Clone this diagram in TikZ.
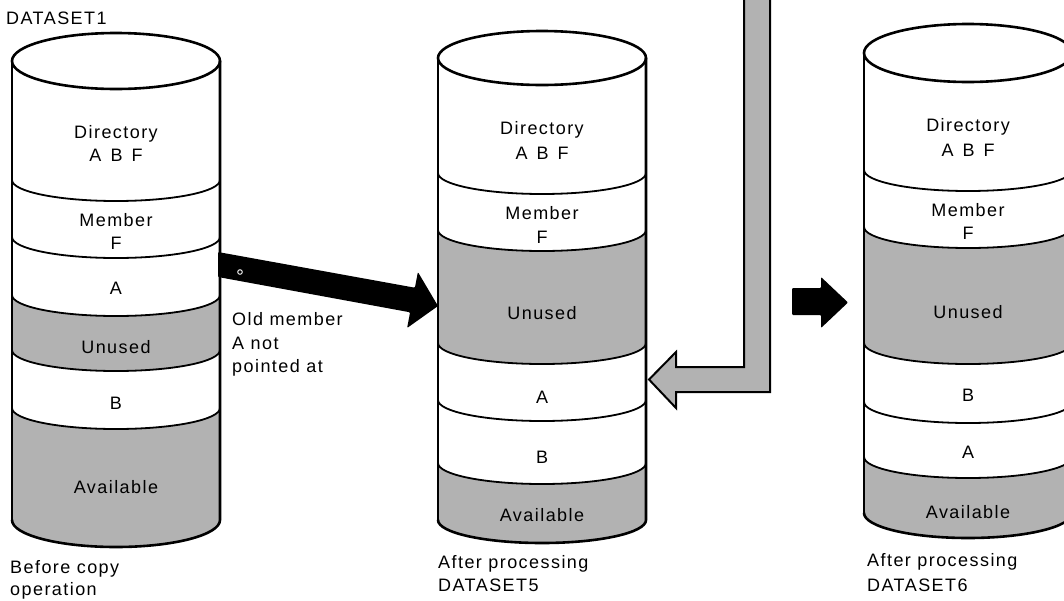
\documentclass[tikz,border=0pt]{standalone}
\usepackage{fontspec}
\setmainfont{Liberation Sans}[LetterSpace=8]
% lower half-ellipse from left to right: cx, y, rx, depth
\newcommand\larc[4]{(#1-#3,#2) .. controls (#1-#3,#2+0.5523*#4) and (#1-0.5523*#3,#2+#4) .. (#1,#2+#4) .. controls (#1+0.5523*#3,#2+#4) and (#1+#3,#2+0.5523*#4) .. (#1+#3,#2)}
% same, from right to left, joined by a line
\newcommand\rarc[4]{-- (#1+#3,#2) .. controls (#1+#3,#2+0.5523*#4) and (#1+0.5523*#3,#2+#4) .. (#1,#2+#4) .. controls (#1-0.5523*#3,#2+#4) and (#1-#3,#2+0.5523*#4) .. (#1-#3,#2)}
\tikzset{
  grayfill/.style={fill=black!30},
  outline/.style={draw=black, line width=2.6pt, line join=round, line cap=round},
  bandline/.style={draw=black, line width=1.8pt, line cap=round},
  lbl/.style={inner sep=0pt, anchor=base, font=\fontsize{18}{22}\selectfont},
  lblw/.style={lbl, anchor=base west},
  blackarrow/.style={fill=black, rounded corners=1pt},
  hollowarrow/.style={fill=black!30, draw=black, line width=2pt, line join=miter},
}
\begin{document}
\begin{tikzpicture}[x=1pt,y=-1pt]
\useasboundingbox (0,0) rectangle (1064,600);

% ---------------- Cylinder 1 (DATASET1) ----------------
\fill[grayfill] \larc{116}{295}{104}{21} \rarc{116}{350}{104}{21} -- cycle;
\fill[grayfill] \larc{116}{408}{104}{21} \rarc{116}{520}{104}{27} -- cycle;
\draw[bandline] \larc{116}{180}{104}{21};
\draw[bandline] \larc{116}{237}{104}{21};
\draw[bandline] \larc{116}{295}{104}{21};
\draw[bandline] \larc{116}{350}{104}{21};
\draw[bandline] \larc{116}{408}{104}{21};
\draw[outline] (116,61) ellipse[x radius=104, y radius=28];
\draw[outline] (12,61) -- (12,520);
\draw[outline] \larc{116}{520}{104}{27} -- (220,61);

\node[lbl] (d1dir) at (116,138) {Directory};
\node[lbl] (d1abf) at (116,161.5) {A\hspace{9pt}B\hspace{9pt}F};
\node[lbl] (d1mem) at (116,226.5) {Member};
\node[lbl] (d1f) at (116,249.5) {F};
\node[lbl] (d1a) at (116,294.5) {A};
\node[lbl] (d1un) at (116,353) {Unused};
\node[lbl] (d1b) at (116,409.5) {B};
\node[lbl] (d1av) at (116,493) {Available};

\node[lblw] (t1) at (6,24) {DATASET1};
\node[lblw] (c1a) at (10,573) {Before copy};
\node[lblw] (c1b) at (10,595) {operation};

% ---------------- Cylinder 2 (DATASET5) ----------------
\fill[grayfill] \larc{542}{230}{104}{21} \rarc{542}{343}{104}{21} -- cycle;
\fill[grayfill] \larc{542}{463}{104}{21} \rarc{542}{520}{104}{23} -- cycle;
\draw[bandline] \larc{542}{173}{104}{21};
\draw[bandline] \larc{542}{230}{104}{21};
\draw[bandline] \larc{542}{343}{104}{21};
\draw[bandline] \larc{542}{400}{104}{21};
\draw[bandline] \larc{542}{463}{104}{21};
\draw[outline] (542,58) ellipse[x radius=104, y radius=27];
\draw[outline] (438,58) -- (438,520);
\draw[outline] \larc{542}{520}{104}{23} -- (646,58);

\node[lbl] (d2dir) at (542,134) {Directory};
\node[lbl] (d2abf) at (542,159.5) {A\hspace{9pt}B\hspace{9pt}F};
\node[lbl] (d2mem) at (542,219.5) {Member};
\node[lbl] (d2f) at (542,243.5) {F};
\node[lbl] (d2un) at (542,319) {Unused};
\node[lbl] (d2a) at (542,403.5) {A};
\node[lbl] (d2b) at (542,463.5) {B};
\node[lbl] (d2av) at (542,521) {Available};

\node[lblw] (c2a) at (438,568) {After processing};
\node[lblw] (c2b) at (438,591) {DATASET5};

% ---------------- Cylinder 3 (DATASET6) ----------------
\fill[grayfill] \larc{968}{227}{104}{21} \rarc{968}{343}{104}{21} -- cycle;
\fill[grayfill] \larc{968}{457}{104}{21} \rarc{968}{513}{104}{25} -- cycle;
\draw[bandline] \larc{968}{170}{104}{21};
\draw[bandline] \larc{968}{227}{104}{21};
\draw[bandline] \larc{968}{343}{104}{21};
\draw[bandline] \larc{968}{402}{104}{21};
\draw[bandline] \larc{968}{457}{104}{21};
\draw[outline] (968,53) ellipse[x radius=104, y radius=29];
\draw[outline] (864,53) -- (864,513);
\draw[outline] \larc{968}{513}{104}{25} -- (1072,53);

\node[lbl] (d3dir) at (968,131) {Directory};
\node[lbl] (d3abf) at (968,156.5) {A\hspace{9pt}B\hspace{9pt}F};
\node[lbl] (d3mem) at (968,216.5) {Member};
\node[lbl] (d3f) at (968,239.5) {F};
\node[lbl] (d3un) at (968,318) {Unused};
\node[lbl] (d3b) at (968,401.5) {B};
\node[lbl] (d3a) at (968,458.5) {A};
\node[lbl] (d3av) at (968,518) {Available};

\node[lblw] (c3a) at (867,566) {After processing};
\node[lblw] (c3b) at (867,591) {DATASET6};

% ---------------- Arrows ----------------
% black arrow from DATASET1 to DATASET5
\fill[blackarrow] (218,252) -- (414.9,287.7) -- (417.9,272) -- (438,306)
  -- (407.1,328) -- (410.1,312.3) -- (218,277) -- cycle;
\draw[white, line width=0.9pt] (240,272) circle[radius=2.3];
\node[lblw] (old1) at (232,325) {Old member};
\node[lblw] (old2) at (232,349) {A not};
\node[lblw] (old3) at (232,372) {pointed at};

% hollow gray arrow from top into DATASET5
\draw[hollowarrow] (744,-5) -- (744,367) -- (676,367) -- (676,352) -- (649,379.5)
  -- (676,408) -- (676,392) -- (770,392) -- (770,-5) -- cycle;

% black arrow toward DATASET6
\fill[blackarrow] (792,288) -- (821,288) -- (821,277) -- (848,302.5)
  -- (821,328) -- (821,315) -- (792,315) -- cycle;
\end{tikzpicture}
\end{document}
